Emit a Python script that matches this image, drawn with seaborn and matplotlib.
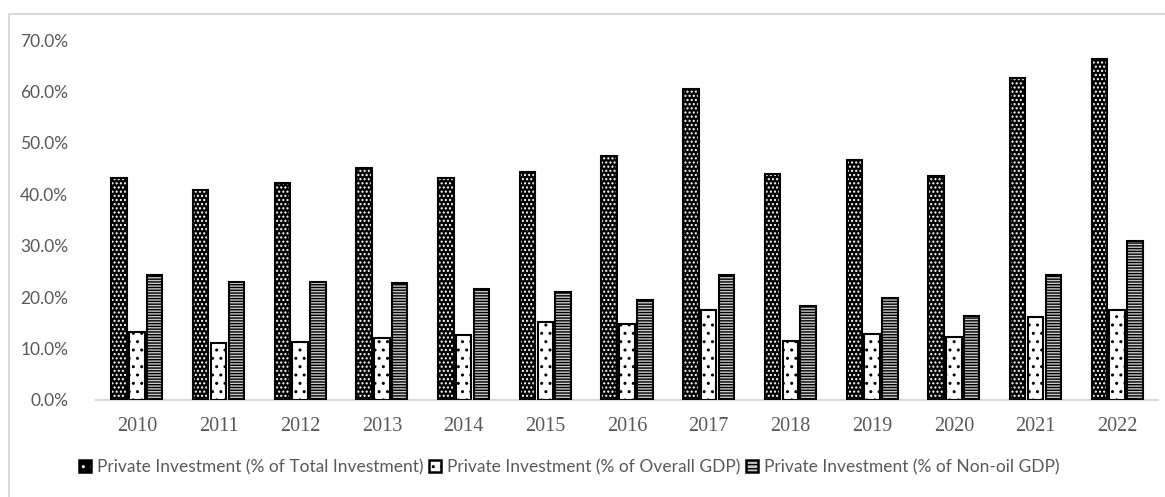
import matplotlib
matplotlib.use("Agg")
import matplotlib.pyplot as plt
from matplotlib.patches import Patch, Rectangle
from matplotlib.legend_handler import HandlerTuple
from matplotlib.ticker import PercentFormatter
import seaborn as sns
import pandas as pd

years = ["2010", "2011", "2012", "2013", "2014", "2015", "2016",
         "2017", "2018", "2019", "2020", "2021", "2022"]
series_names = ["Private Investment (% of Total Investment)",
                "Private Investment (% of Overall GDP)",
                "Private Investment (% of Non-oil GDP)"]
total_inv = [43.1, 40.9, 42.1, 45.1, 43.1, 44.4, 47.5, 60.5, 44.0, 46.6, 43.6, 62.7, 66.3]
overall_gdp = [13.3, 11.1, 11.3, 12.1, 12.6, 15.2, 14.8, 17.5, 11.5, 12.9, 12.2, 16.1, 17.5]
nonoil_gdp = [24.4, 22.9, 22.9, 22.7, 21.6, 21.0, 19.5, 24.4, 18.3, 19.8, 16.4, 24.4, 30.9]

df = pd.DataFrame({
    "year": years * 3,
    "value": total_inv + overall_gdp + nonoil_gdp,
    "series": [series_names[0]] * 13 + [series_names[1]] * 13 + [series_names[2]] * 13,
})

sns.set_style("white")
plt.rcParams["hatch.linewidth"] = 1.0
GREY = "#595959"

fig = plt.figure(figsize=(11.65, 4.97), dpi=100)
ax = fig.add_axes([96 / 1165, 1 - 400 / 497, (1158 - 96) / 1165, (400 - 40) / 497])

sns.barplot(data=df, x="year", y="value", hue="series", hue_order=series_names,
            palette=["black", "white", "white"], width=0.654, gap=0.13,
            ax=ax, legend=False, errorbar=None, saturation=1)

styles = [
    dict(face="black", hatch="....", hcol="white"),
    dict(face="white", hatch="..", hcol="black"),
    dict(face="#c8c8c8", hatch="------", hcol="black"),
]
for cont, st in zip(ax.containers, styles):
    for p in cont:
        p.set_facecolor(st["face"])
        p.set_edgecolor(st["hcol"])
        p.set_hatch(st["hatch"])
        p.set_linewidth(0)
        ax.add_patch(Rectangle(p.get_xy(), p.get_width(), p.get_height(),
                               fill=False, edgecolor="black", linewidth=1.5, zorder=3))

ax.set_ylim(0, 70)
ax.set_xlim(-0.5, len(years) - 0.5)
ax.set_yticks(range(0, 71, 10))
ax.yaxis.set_major_formatter(PercentFormatter(xmax=100, decimals=1))
ax.set_xlabel("")
ax.set_ylabel("")
for s in ["top", "right", "left"]:
    ax.spines[s].set_visible(False)
ax.spines["bottom"].set_color("#d9d9d9")
ax.spines["bottom"].set_linewidth(1.5)
ax.tick_params(axis="y", length=0, pad=20, labelcolor=GREY)
ax.tick_params(axis="x", length=0, pad=12, labelcolor=GREY)
for lab in ax.get_yticklabels():
    lab.set_fontfamily("Lato")
    lab.set_fontsize(12.5)
for lab in ax.get_xticklabels():
    lab.set_fontfamily("Liberation Serif")
    lab.set_fontsize(14.5)

outline = dict(fill=False, edgecolor="black", linewidth=1.8)
handles = [
    (Patch(facecolor="black", edgecolor="white", hatch="..", linewidth=0), Patch(**outline)),
    (Patch(facecolor="white", edgecolor="black", hatch="..", linewidth=0), Patch(**outline)),
    (Patch(facecolor="#c8c8c8", edgecolor="black", hatch="----", linewidth=0), Patch(**outline)),
]
leg = fig.legend(handles, series_names, loc="center", bbox_to_anchor=(569 / 1165, 1 - 467 / 497),
                 ncol=3, frameon=False, handlelength=0.7, handleheight=0.7,
                 handletextpad=0.35, columnspacing=0.3,
                 handler_map={tuple: HandlerTuple(ndivide=1, pad=0)},
                 prop={"family": "Lato", "size": 12.5})
for t in leg.get_texts():
    t.set_color(GREY)

fig.patches.append(Rectangle((9 / 1165, -0.1), 1.2, 1.1 - 14 / 497, transform=fig.transFigure,
                             fill=False, edgecolor="#d9d9d9", linewidth=1.5))

fig.savefig("out.png", dpi=100)
